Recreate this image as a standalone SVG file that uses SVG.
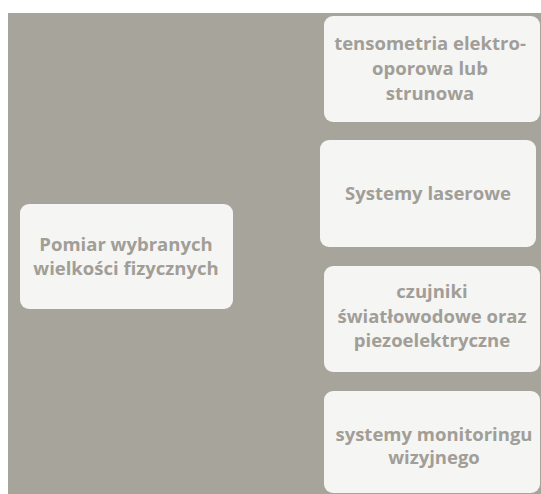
<svg xmlns="http://www.w3.org/2000/svg" width="541" height="494" viewBox="0 0 541 494">
<style>
.box{fill:#f5f5f4;}
.t{font-family:"Open Sans","Liberation Sans",sans-serif;font-weight:700;font-size:18.5px;fill:#a19e97;text-anchor:middle;}
</style>
<rect x="0" y="0" width="541" height="494" fill="#ffffff"/>
<rect x="8" y="13" width="533" height="481" fill="#a7a49c"/>
<g id="connectors"></g>
<g id="n0">
<rect class="box" x="20" y="204" width="213" height="105" rx="9"/>
<text class="t" x="126" y="251">Pomiar wybranych</text>
<text class="t" x="126" y="275">wielkości fizycznych</text>
</g>
<g id="n1">
<rect class="box" x="324" y="16" width="216" height="106" rx="9"/>
<text class="t" x="430" y="50">tensometria elektro-</text>
<text class="t" x="430" y="75">oporowa lub</text>
<text class="t" x="430" y="100">strunowa</text>
</g>
<g id="n2">
<rect class="box" x="320" y="140" width="216" height="107" rx="9"/>
<text class="t" x="428" y="200">Systemy laserowe</text>
</g>
<g id="n3">
<rect class="box" x="324" y="266" width="216" height="106" rx="9"/>
<text class="t" x="432" y="298">czujniki</text>
<text class="t" x="432" y="323">światłowodowe oraz</text>
<text class="t" x="432" y="347">piezoelektryczne</text>
</g>
<g id="n4">
<rect class="box" x="324" y="391" width="216" height="102" rx="9"/>
<text class="t" x="434" y="441">systemy monitoringu</text>
<text class="t" x="434" y="464">wizyjnego</text>
</g>
</svg>
